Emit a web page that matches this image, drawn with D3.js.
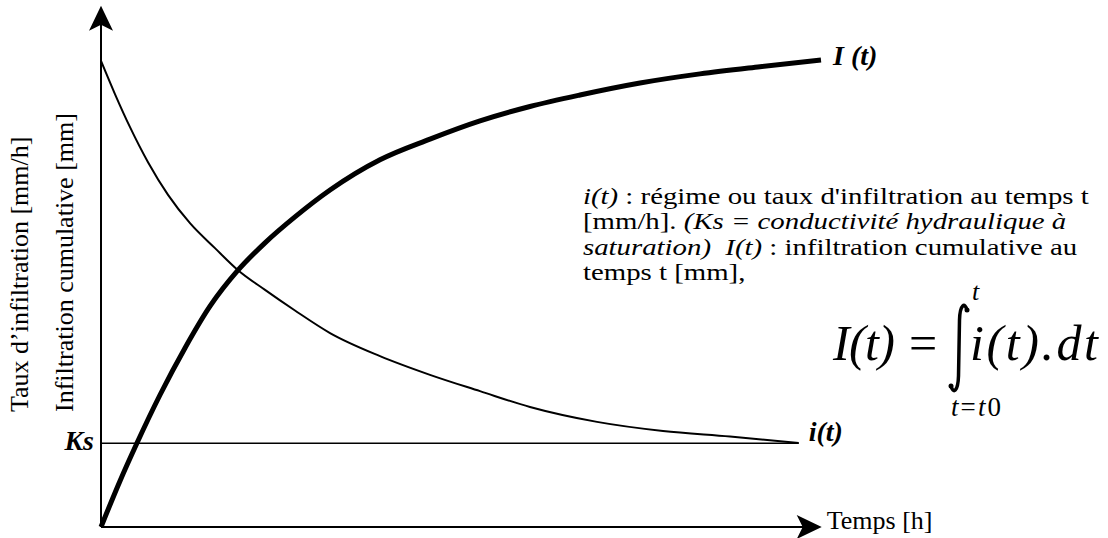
<!DOCTYPE html>
<html>
<head>
<meta charset="utf-8">
<script src="https://cdn.jsdelivr.net/npm/d3@7"></script>
<style>
  body { margin: 0; background: #fff; }
  svg { display: block; }
  text { white-space: pre; font-family: "Liberation Serif", "Times New Roman", Times, serif; }
</style>
</head>
<body>
<div id="chart"></div>
<script>
// i(t) : infiltration rate (time in h, arbitrary units)
const rateTime = [0, 0.194, 0.403, 0.653, 0.931, 1.236, 1.583, 1.903, 2.278, 2.694, 3.181, 3.875, 4.569, 5.264, 5.958, 6.889, 7.806, 8.736, 9.69];
const rateValue = [97.1, 90.2, 83.3, 76.0, 69.2, 63.3, 58.1, 53.5, 49.4, 45.1, 40.4, 35.6, 31.7, 28.3, 25.0, 21.9, 20.0, 18.85, 17.5];

// I(t) : cumulative infiltration
const cumTime = [0, 0.264, 0.5, 0.819, 1.167, 1.514, 1.903, 2.278, 2.694, 3.181, 3.875, 4.569, 5.264, 5.958, 6.653, 7.486, 8.319, 9.153, 10];
const cumValue = [0, 9.6, 17.5, 27.5, 37.3, 46.0, 53.5, 59.2, 64.6, 70.2, 76.5, 80.8, 84.6, 87.6, 90.0, 92.5, 94.4, 95.9, 97.3];

// Ks : saturated hydraulic conductivity
const ksValue = 17.44;
const ksEndTime = 9.69;

// texts
const yLabelRate = 'Taux d\u2019infiltration [mm/h]';
const yLabelCum = 'Infiltration cumulative [mm]';
const xLabel = 'Temps [h]';
const noteLines = [
  [{ t: 'i(t)', it: true }, { t: ' : r\u00e9gime ou taux d\'infiltration au temps t' }],
  [{ t: '[mm/h]. ' }, { t: '(Ks = conductivit\u00e9 hydraulique \u00e0', it: true }],
  [{ t: 'saturation)  I(t)', it: true }, { t: ' : infiltration cumulative au' }],
  [{ t: 'temps t [mm],' }],
];

const width = 1108;
const height = 538;

const x = d3.scaleLinear().domain([0, 10]).range([101, 821]);
const y = d3.scaleLinear().domain([0, 100]).range([527, 47]);

const svg = d3.select('#chart')
  .append('svg')
  .attr('width', width)
  .attr('height', height);

function label(parent, px, py, str, size, opts = {}) {
  const t = parent.append('text')
    .attr('transform', `translate(${px},${py})${opts.rotate ? ' rotate(-90)' : ''}`)
    .attr('font-size', size)
    .attr('fill', '#000')
    .text(str);
  if (opts.italic) t.attr('font-style', 'italic');
  if (opts.bold) t.attr('font-weight', 'bold');
  if (opts.anchor) t.attr('text-anchor', opts.anchor);
  if (opts.len) t.attr('textLength', opts.len).attr('lengthAdjust', 'spacing');
  return t;
}

// axes with arrow heads
const xTip = x(10.01);
const yTip = y(108.6);

svg.append('line')
  .attr('x1', x(0)).attr('x2', xTip - 18)
  .attr('y1', y(0)).attr('y2', y(0))
  .attr('stroke', '#000').attr('stroke-width', 2);
svg.append('line')
  .attr('x1', x(0)).attr('x2', x(0))
  .attr('y1', y(0)).attr('y2', yTip + 18)
  .attr('stroke', '#000').attr('stroke-width', 2);

svg.append('path')
  .attr('d', `M${xTip},${y(0)} L${xTip - 25},${y(0) - 12} L${xTip - 19},${y(0)} L${xTip - 25},${y(0) + 12} Z`)
  .attr('fill', '#000');
svg.append('path')
  .attr('d', `M${x(0)},${yTip} L${x(0) + 12},${yTip + 25} L${x(0)},${yTip + 19} L${x(0) - 12},${yTip + 25} Z`)
  .attr('fill', '#000');

// Ks line
svg.append('line')
  .attr('x1', x(0)).attr('x2', x(ksEndTime))
  .attr('y1', y(ksValue)).attr('y2', y(ksValue))
  .attr('stroke', '#000').attr('stroke-width', 1.6);

const line = d3.line()
  .x((d) => x(d[0]))
  .y((d) => y(d[1]))
  .curve(d3.curveMonotoneX);

// i(t)
svg.append('path')
  .datum(d3.zip(rateTime, rateValue))
  .attr('d', line)
  .attr('fill', 'none')
  .attr('stroke', '#000')
  .attr('stroke-width', 2);

// I(t)
svg.append('path')
  .datum(d3.zip(cumTime, cumValue))
  .attr('d', line)
  .attr('fill', 'none')
  .attr('stroke', '#000')
  .attr('stroke-width', 5);

// curve labels
label(svg, x(10) + 12, y(cumValue[cumValue.length - 1]) + 5, 'I (t)', 28, { italic: true, bold: true });
label(svg, x(ksEndTime) + 10, y(ksValue) - 2, 'i(t)', 28, { italic: true, bold: true });
label(svg, x(0) - 7, y(ksValue) + 7, 'Ks', 28, { italic: true, bold: true, anchor: 'end' });

// axis titles
label(svg, 28, 412, yLabelRate, 26, { rotate: true });
label(svg, 73, 412, yLabelCum, 26, { rotate: true });
label(svg, xTip + 5, 529, xLabel, 26);

// note block: one paragraph, slightly widened so the tight lines do not collide
const note = svg.append('text')
  .attr('transform', 'translate(583,204) scale(1.2,1)')
  .attr('font-size', 24)
  .attr('fill', '#000');
noteLines.forEach((parts, i) => {
  parts.forEach((p, j) => {
    const s = note.append('tspan')
      .attr('font-style', p.it ? 'italic' : null)
      .text(p.t);
    if (j === 0) s.attr('x', 0).attr('dy', i === 0 ? 0 : 25.5);
  });
});

// formula I(t) = integral i(t).dt
const fy = 360;
label(svg, 833, fy, 'I(t)', 50, { italic: true, len: 62 });
label(svg, 909, fy, '=', 50);
label(svg, 970, fy, 'i(t).dt', 50, { italic: true, len: 128 });

const ix = 959, iTop = 304, iBot = 392;
svg.append('path')
  .attr('d', `M${ix + 8},${iTop + 6} C${ix + 6},${iTop - 2} ${ix + 1},${iTop} ${ix + 0.5},${iTop + 16} L${ix - 0.5},${iBot - 16} C${ix - 1},${iBot} ${ix - 6},${iBot + 2} ${ix - 8},${iBot - 6}`)
  .attr('fill', 'none')
  .attr('stroke', '#000')
  .attr('stroke-width', 3.5);
svg.append('circle').attr('cx', ix + 8).attr('cy', iTop + 6).attr('r', 2.5);
svg.append('circle').attr('cx', ix - 8).attr('cy', iBot - 6).attr('r', 2.5);

label(svg, 972, 300, 't', 26, { italic: true });
const lower = label(svg, 951, 416, '', 27, { len: 50 });
lower.append('tspan').attr('font-style', 'italic').text('t');
lower.append('tspan').text('=');
lower.append('tspan').attr('font-style', 'italic').text('t');
lower.append('tspan').text('0');
</script>
</body>
</html>
